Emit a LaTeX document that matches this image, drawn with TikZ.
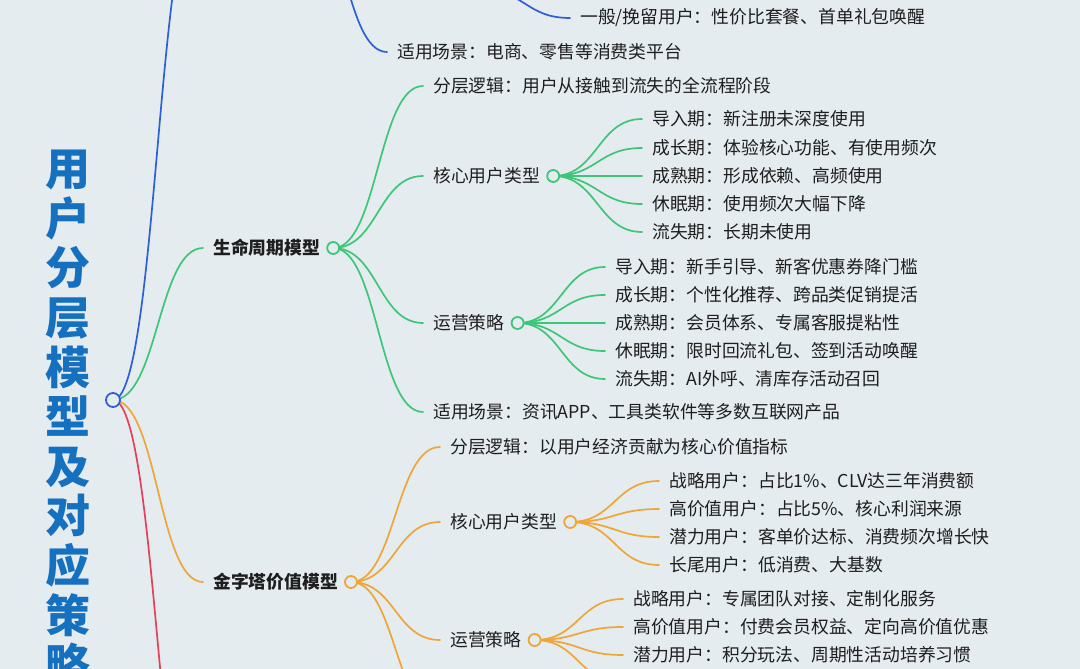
\documentclass[tikz,border=0pt]{standalone}
\usepackage{fontspec}
\setmainfont{Noto Sans CJK SC}
\usetikzlibrary{calc}
\definecolor{bgc}{RGB}{229,236,240}
\definecolor{ink}{RGB}{30,30,30}
\definecolor{cblue}{RGB}{45,95,215}
\definecolor{cgreen}{RGB}{62,198,120}
\definecolor{corange}{RGB}{240,165,55}
\definecolor{cred}{RGB}{228,64,88}
\definecolor{ctitle}{RGB}{22,112,192}
\newcommand\mmlink[3]{\draw[#1] let \p1=(#2), \p2=(#3) in (\p1) .. controls ({(\x1+\x2)/2},\y1) and ({(\x1+\x2)/2},\y2) .. (\p2);}
\begin{document}
\begin{tikzpicture}[x=1pt,y=-1pt,
  link/.style={line width=1.7pt, line cap=round},
  lb/.style={link, draw=cblue},
  lg/.style={link, draw=cgreen},
  lo/.style={link, draw=corange},
  lr/.style={link, draw=cred},
  txt/.style={anchor=west, inner xsep=10pt, inner ysep=0pt, text=ink, font=\fontsize{17.8}{21}\selectfont},
  hd/.style={txt, font=\fontsize{17.8}{21}\selectfont\bfseries},
  dot/.style={circle, draw=#1, fill=bgc, line width=1.8pt, minimum size=12pt, inner sep=0pt},
  titlestyle/.style={anchor=north, align=center, inner sep=0pt, text=ctitle, font=\fontsize{45}{49.6}\selectfont\bfseries}]
\useasboundingbox (0,0) rectangle (1080,669);
\fill[bgc] (0,0) rectangle (1080,669);
\clip (0,0) rectangle (1080,669);

% title
\node[titlestyle] (title) at (68,150) {用\\户\\分\\层\\模\\型\\及\\对\\应\\策\\略};

% root
\coordinate (root) at (113,400);

% blue branch (mostly above the page)
\coordinate (bmodel) at (202,-105);
\coordinate (bmc) at (300,-105);
\coordinate (bop) at (481,-10);
\node[txt] (tbgen) at (570,18) {一般/挽留用户：性价比套餐、首单礼包唤醒};
\node[txt] (tbscene) at (387,52) {适用场景：电商、零售等消费类平台};

% green branch
\node[hd] (tg) at (203,248) {生命周期模型};
\coordinate (cg) at ([xshift=3pt]tg.east);
\node[txt] (tg1) at (423,86) {分层逻辑：用户从接触到流失的全流程阶段};
\node[txt] (tg2) at (423,176) {核心用户类型};
\coordinate (cg2) at ([xshift=3pt]tg2.east);
\node[txt] (tg2a) at (642,119) {导入期：新注册未深度使用};
\node[txt] (tg2b) at (642,148) {成长期：体验核心功能、有使用频次};
\node[txt] (tg2c) at (642,176) {成熟期：形成依赖、高频使用};
\node[txt] (tg2d) at (642,204) {休眠期：使用频次大幅下降};
\node[txt] (tg2e) at (642,232) {流失期：长期未使用};
\node[txt] (tg3) at (423,323) {运营策略};
\coordinate (cg3) at ([xshift=3pt]tg3.east);
\node[txt] (tg3a) at (605,267) {导入期：新手引导、新客优惠券降门槛};
\node[txt] (tg3b) at (605,295) {成长期：个性化推荐、跨品类促销提活};
\node[txt] (tg3c) at (605,323) {成熟期：会员体系、专属客服提粘性};
\node[txt] (tg3d) at (605,351) {休眠期：限时回流礼包、签到活动唤醒};
\node[txt] (tg3e) at (605,379) {流失期：AI外呼、清库存活动召回};
\node[txt] (tg4) at (423,412) {适用场景：资讯APP、工具类软件等多数互联网产品};

% orange branch
\node[hd] (to) at (203,582) {金字塔价值模型};
\coordinate (co) at ([xshift=3pt]to.east);
\node[txt] (to1) at (440,447) {分层逻辑：以用户经济贡献为核心价值指标};
\node[txt] (to2) at (440,522) {核心用户类型};
\coordinate (co2) at ([xshift=3pt]to2.east);
\node[txt] (to2a) at (659,481) {战略用户：占比1\%、CLV达三年消费额};
\node[txt] (to2b) at (659,509) {高价值用户：占比5\%、核心利润来源};
\node[txt] (to2c) at (659,537) {潜力用户：客单价达标、消费频次增长快};
\node[txt] (to2d) at (659,565) {长尾用户：低消费、大基数};
\node[txt] (to3) at (440,640) {运营策略};
\coordinate (co3) at ([xshift=3pt]to3.east);
\node[txt] (to3a) at (623,599) {战略用户：专属团队对接、定制化服务};
\node[txt] (to3b) at (623,627) {高价值用户：付费会员权益、定向高价值优惠};
\node[txt] (to3c) at (623,655) {潜力用户：积分玩法、周期性活动培养习惯};
\coordinate (to3d) at (623,683);
\coordinate (to4) at (440,716);

% red branch (below the page)
\coordinate (rmodel) at (202,880);

% links
\mmlink{lb}{root}{bmodel}
\mmlink{lb}{bmc}{tbscene.west}
\mmlink{lb}{bop}{tbgen.west}

\mmlink{lg}{root}{tg.west}
\mmlink{lg}{cg}{tg1.west}
\mmlink{lg}{cg}{tg2.west}
\mmlink{lg}{cg}{tg3.west}
\mmlink{lg}{cg}{tg4.west}
\foreach \k in {a,b,c,d,e}{\mmlink{lg}{cg2}{tg2\k.west}}
\foreach \k in {a,b,c,d,e}{\mmlink{lg}{cg3}{tg3\k.west}}

\mmlink{lo}{root}{to.west}
\mmlink{lo}{co}{to1.west}
\mmlink{lo}{co}{to2.west}
\mmlink{lo}{co}{to3.west}
\mmlink{lo}{co}{to4}
\foreach \k in {a,b,c,d}{\mmlink{lo}{co2}{to2\k.west}}
\foreach \k in {a,b,c}{\mmlink{lo}{co3}{to3\k.west}}
\mmlink{lo}{co3}{to3d}

\mmlink{lr}{root}{rmodel}

% circles on top
\node[dot=cblue, minimum size=14pt] (rootdot) at (root) {};
\node[dot=cgreen] (dg) at (cg) {};
\node[dot=cgreen] (dg2) at (cg2) {};
\node[dot=cgreen] (dg3) at (cg3) {};
\node[dot=corange] (do) at (co) {};
\node[dot=corange] (do2) at (co2) {};
\node[dot=corange] (do3) at (co3) {};
\end{tikzpicture}
\end{document}
